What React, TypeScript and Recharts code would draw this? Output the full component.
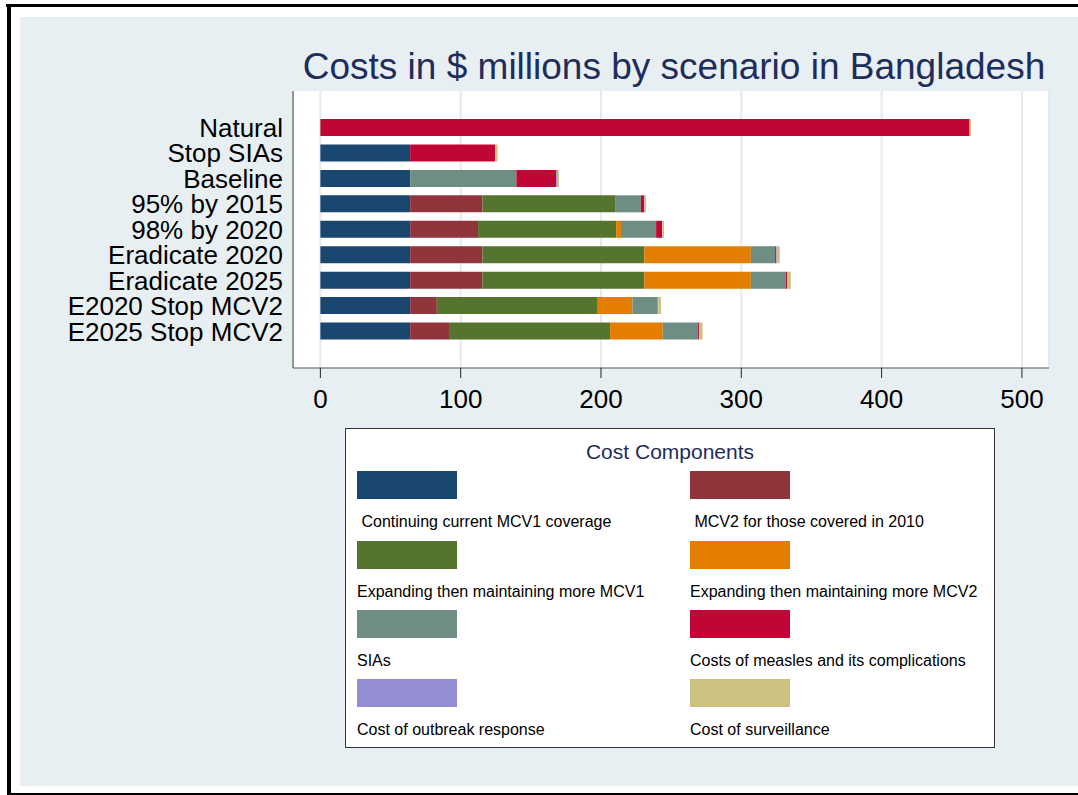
import React from "react";
import { BarChart, Bar, XAxis, YAxis, CartesianGrid } from "recharts";

const SCENARIOS = [
  "Natural",
  "Stop SIAs",
  "Baseline",
  "95% by 2015",
  "98% by 2020",
  "Eradicate 2020",
  "Eradicate 2025",
  "E2020 Stop MCV2",
  "E2025 Stop MCV2",
];

// $ millions per cost component, one value per scenario (same order as SCENARIOS)
const MCV1_CURRENT = [0, 64, 64, 64, 64, 64, 64, 64, 64];
const MCV2_2010 = [0, 0, 0, 51.5, 48.4, 51.5, 51.5, 19.0, 27.7];
const MCV1_EXPAND = [0, 0, 0, 95.0, 98.4, 115.4, 115.4, 114.7, 114.8];
const MCV2_EXPAND = [0, 0, 0, 0, 3.5, 75.9, 75.9, 24.7, 37.5];
const SIAS = [0, 0, 75.7, 17.9, 25.0, 17.3, 24.9, 17.6, 25.1];
const MEASLES = [462.6, 60.5, 28.5, 2.3, 4.2, 0.8, 1.0, 0.3, 0.7];
const OUTBREAK = [0.3, 0.3, 1.0, 0.3, 0.2, 0.4, 0.2, 0.6, 0.2];
const SURVEILLANCE = [0.8, 1.5, 0.8, 1.2, 1.2, 2.1, 2.4, 1.9, 2.4];

const X_TICKS = [0, 100, 200, 300, 400, 500];

const SERIES = [
  { key: "mcv1Current", label: " Continuing current MCV1 coverage", color: "#1a476f", values: MCV1_CURRENT },
  { key: "mcv2_2010", label: " MCV2 for those covered in 2010", color: "#90353b", values: MCV2_2010 },
  { key: "mcv1Expand", label: "Expanding then maintaining more MCV1", color: "#55752f", values: MCV1_EXPAND },
  { key: "mcv2Expand", label: "Expanding then maintaining more MCV2", color: "#e37e00", values: MCV2_EXPAND },
  { key: "sias", label: "SIAs", color: "#6e8e84", values: SIAS },
  { key: "measles", label: "Costs of measles and its complications", color: "#c10534", values: MEASLES },
  { key: "outbreak", label: "Cost of outbreak response", color: "#938dd2", values: OUTBREAK },
  { key: "surveillance", label: "Cost of surveillance", color: "#cac27e", values: SURVEILLANCE },
];

const data = SCENARIOS.map((name, i) => {
  const row: Record<string, string | number> = { name };
  SERIES.forEach((s) => {
    row[s.key] = s.values[i];
  });
  return row;
});

const FONT = '"Liberation Sans", Arial, Helvetica, sans-serif';
const NAVY = "#1e2d5c";

function CostLegend() {
  const rowTops = [42, 112, 181, 250];
  return (
    <div
      style={{
        position: "absolute",
        left: 345,
        top: 428,
        width: 648,
        height: 318,
        background: "#fff",
        border: "1px solid #333",
        fontFamily: FONT,
      }}
    >
      <div
        style={{
          position: "absolute",
          left: 0,
          width: "100%",
          top: 11,
          textAlign: "center",
          fontSize: 21,
          color: NAVY,
        }}
      >
        Cost Components
      </div>
      {SERIES.map((s, i) => {
        const col = i % 2;
        const row = Math.floor(i / 2);
        const left = col === 0 ? 11 : 344;
        return (
          <React.Fragment key={s.key}>
            <div
              style={{
                position: "absolute",
                left,
                top: rowTops[row],
                width: 100,
                height: 28,
                background: s.color,
              }}
            />
            <div
              style={{
                position: "absolute",
                left,
                top: rowTops[row] + 42,
                fontSize: 16,
                whiteSpace: "pre",
                color: "#000",
              }}
            >
              {s.label}
            </div>
          </React.Fragment>
        );
      })}
    </div>
  );
}

export default function App() {
  return (
    <div
      style={{
        position: "absolute",
        left: 0,
        top: 0,
        width: 1078,
        height: 795,
        background: "#fff",
        overflow: "hidden",
        fontFamily: FONT,
      }}
    >
      <div style={{ position: "absolute", left: 6, top: 4, width: 1072, height: 3, background: "#000" }} />
      <div style={{ position: "absolute", left: 7, top: 4, width: 4, height: 791, background: "#000" }} />
      <div style={{ position: "absolute", left: 7, top: 793, width: 1071, height: 2, background: "#000" }} />
      <div
        style={{
          position: "absolute",
          left: 20,
          top: 17,
          width: 1058,
          height: 769,
          background: "#e8eff2",
        }}
      />
      <div
        style={{
          position: "absolute",
          left: 0,
          width: 1078,
          top: 46,
          textAlign: "center",
          paddingLeft: 270,
          boxSizing: "border-box",
          fontSize: 37,
          color: NAVY,
          whiteSpace: "nowrap",
        }}
      >
        Costs in $ millions by scenario in Bangladesh
      </div>
      <div style={{ position: "absolute", left: 0, top: 0 }}>
        <BarChart
          width={1078}
          height={795}
          data={data}
          layout="vertical"
          margin={{ top: 91, right: 29, bottom: 387, left: 23 }}
          barSize={17}
        >
          <CartesianGrid
            horizontal={false}
            stroke="#e3ebee"
            strokeWidth={2}
            fill="#ffffff"
            fillOpacity={1}
          />
          <XAxis
            type="number"
            domain={[-19.5, 519.3]}
            ticks={X_TICKS}
            allowDataOverflow
            height={40}
            tickSize={10}
            tickMargin={12}
            axisLine={{ stroke: "#555" }}
            tickLine={{ stroke: "#222" }}
            tick={{ fill: "#000", fontSize: 26, fontFamily: FONT }}
          />
          <YAxis
            type="category"
            dataKey="name"
            width={270}
            padding={{ top: 24, bottom: 24 }}
            axisLine={{ stroke: "#444" }}
            tickLine={false}
            tickSize={8}
            tickMargin={2}
            interval={0}
            tick={{ fill: "#000", fontSize: 26, fontFamily: FONT }}
          />
          {SERIES.map((s) => (
            <Bar
              key={s.key}
              dataKey={s.key}
              stackId="cost"
              fill={s.color}
              isAnimationActive={false}
            />
          ))}
        </BarChart>
      </div>
      <CostLegend />
    </div>
  );
}
